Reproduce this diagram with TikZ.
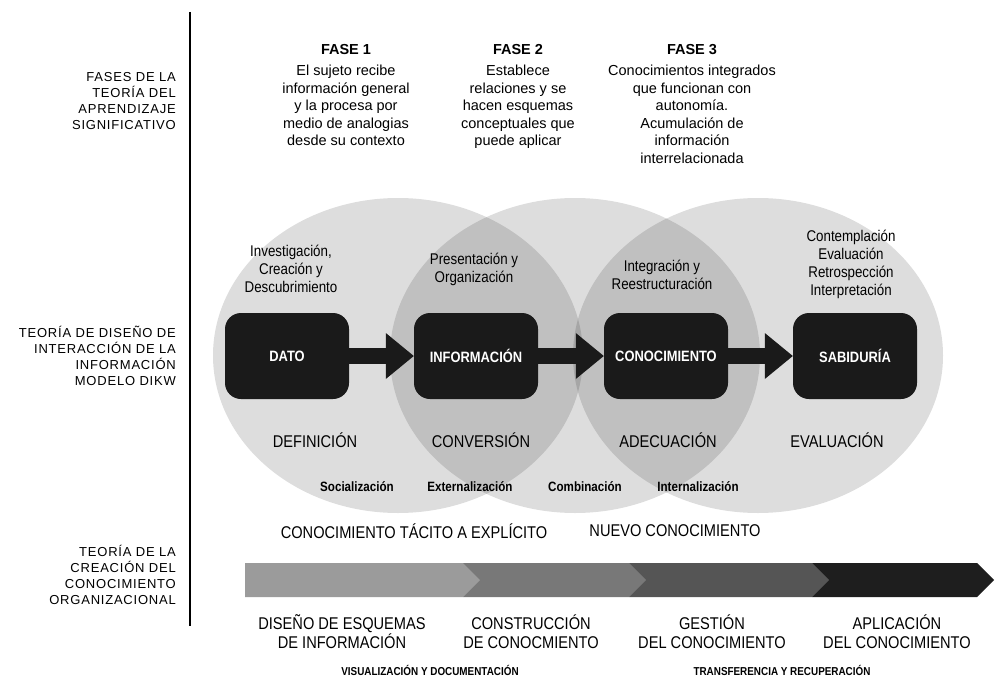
\documentclass[tikz,border=0pt]{standalone}
\usepackage{fontspec}
\setmainfont{Liberation Sans}
\newfontfamily\condfont[FakeStretch=0.86]{Liberation Sans}
\newfontfamily\spacedfont[LetterSpace=6]{Liberation Sans}
\usetikzlibrary{arrows.meta}
\definecolor{boxblack}{HTML}{1A1A1A}
\definecolor{segA}{HTML}{9B9B9B}
\definecolor{segB}{HTML}{787878}
\definecolor{segC}{HTML}{555555}
\definecolor{segD}{HTML}{1E1E1E}

\begin{document}
\begin{tikzpicture}[x=1pt, y=-1pt,
    sidelbl/.style={anchor=east, align=right, inner sep=0pt, font=\spacedfont\fontsize{13}{16}\selectfont},
    fasehead/.style={inner sep=0pt, font=\bfseries\fontsize{14.5}{17}\selectfont},
    fasebody/.style={anchor=north, align=center, inner sep=0pt, font=\fontsize{14.5}{17.5}\selectfont},
    zone/.style={fill=black, fill opacity=0.135},
    notelbl/.style={align=center, inner sep=0pt, font=\condfont\fontsize{15.5}{18}\selectfont},
    stagelbl/.style={inner sep=0pt, font=\condfont\fontsize{17}{19}\selectfont},
    modelbl/.style={inner sep=0pt, font=\condfont\bfseries\fontsize{13.5}{15}\selectfont},
    box/.style={fill=boxblack, rounded corners=16pt, minimum width=124pt, minimum height=86pt,
        text=white, font=\condfont\bfseries\fontsize{15}{17}\selectfont},
    arrow/.style={draw=boxblack, line width=16pt, -{Triangle[length=28pt, width=46pt, line width=0pt]}},
    bandlbl/.style={align=center, inner sep=0pt, font=\condfont\fontsize{17}{19}\selectfont},
    tracklbl/.style={inner sep=0pt, font=\condfont\bfseries\fontsize{11.5}{13}\selectfont}
]
    \useasboundingbox (0,0) rectangle (995,677);

    % Left column
    \draw[line width=1.6pt] (190,12) -- (190,626);
    \node[sidelbl] (fases) at (176,101) {FASES DE LA\\TEORÍA DEL\\APRENDIZAJE\\SIGNIFICATIVO};
    \node[sidelbl] (dikw) at (176,356) {TEORÍA DE DISEÑO DE\\INTERACCIÓN DE LA\\INFORMACIÓN\\MODELO DIKW};
    \node[sidelbl] (creacion) at (176,575) {TEORÍA DE LA\\CREACIÓN DEL\\CONOCIMIENTO\\ORGANIZACIONAL};

    % Phases
    \node[fasehead] (f1) at (346,50) {FASE 1};
    \node[fasehead] (f2) at (518,50) {FASE 2};
    \node[fasehead] (f3) at (692,50) {FASE 3};
    \node[fasebody] (f1txt) at (346,65) {El sujeto recibe\\información general\\y la procesa por\\medio de analogias\\desde su contexto};
    \node[fasebody] (f2txt) at (518,65) {Establece\\relaciones y se\\hacen esquemas\\conceptuales que\\puede aplicar};
    \node[fasebody] (f3txt) at (692,65) {Conocimientos integrados\\que funcionan con\\autonomía.\\Acumulación de\\información\\interrelacionada};

    % Overlapping zones
    \fill[zone] (398,355.5) ellipse [x radius=185pt, y radius=157.5pt];
    \fill[zone] (575,355.5) ellipse [x radius=185pt, y radius=157.5pt];
    \fill[zone] (758,355.5) ellipse [x radius=185pt, y radius=157.5pt];

    % Texts above the boxes
    \node[notelbl] (invest) at (291,269) {Investigación,\\Creación y\\Descubrimiento};
    \node[notelbl] (present) at (474,269) {Presentación y\\Organización};
    \node[notelbl] (integra) at (662,275) {Integración y\\Reestructuración};
    \node[notelbl] (contem) at (851,264) {Contemplación\\Evaluación\\Retrospección\\Interpretación};

    % DIKW chain
    \node[box] (dato) at (287,356) {DATO};
    \node[box] (info) at (476,356) {INFORMACIÓN};
    \node[box] (conoc) at (666,356) {CONOCIMIENTO};
    \node[box] (sabid) at (855,356) {SABIDURÍA};
    \draw[arrow] (dato) -- (info);
    \draw[arrow] (info) -- (conoc);
    \draw[arrow] (conoc) -- (sabid);

    % Texts below the boxes
    \node[stagelbl] (defin) at (315,440) {DEFINICIÓN};
    \node[stagelbl] (conver) at (481,440) {CONVERSIÓN};
    \node[stagelbl] (adecua) at (668,440) {ADECUACIÓN};
    \node[stagelbl] (evalua) at (837,440) {EVALUACIÓN};
    \node[modelbl] (social) at (357,487) {Socialización};
    \node[modelbl] (extern) at (470,487) {Externalización};
    \node[modelbl] (combin) at (585,487) {Combinación};
    \node[modelbl] (intern) at (698,487) {Internalización};
    \node[stagelbl] (tacito) at (414,531) {CONOCIMIENTO TÁCITO A EXPLÍCITO};
    \node[stagelbl] (nuevo) at (675,531) {NUEVO CONOCIMIENTO};

    % Band
    \foreach \xa/\xb/\col in {812/977/segD, 629/812/segC, 463/629/segB, 245/463/segA}
        \fill[\col] (\xa,563) -- (\xb,563) -- (\xb+17,580) -- (\xb,597) -- (\xa,597) -- cycle;

    \node[bandlbl] (disen) at (342,632) {DISEÑO DE ESQUEMAS\\DE INFORMACIÓN};
    \node[bandlbl] (constr) at (531,632) {CONSTRUCCIÓN\\DE CONOCMIENTO};
    \node[bandlbl] (gestion) at (712,632) {GESTIÓN\\DEL CONOCIMIENTO};
    \node[bandlbl] (aplic) at (897,632) {APLICACIÓN\\DEL CONOCIMIENTO};
    \node[tracklbl] (visual) at (430,670) {VISUALIZACIÓN Y DOCUMENTACIÓN};
    \node[tracklbl] (transf) at (782,670) {TRANSFERENCIA Y RECUPERACIÓN};

\end{tikzpicture}
\end{document}
